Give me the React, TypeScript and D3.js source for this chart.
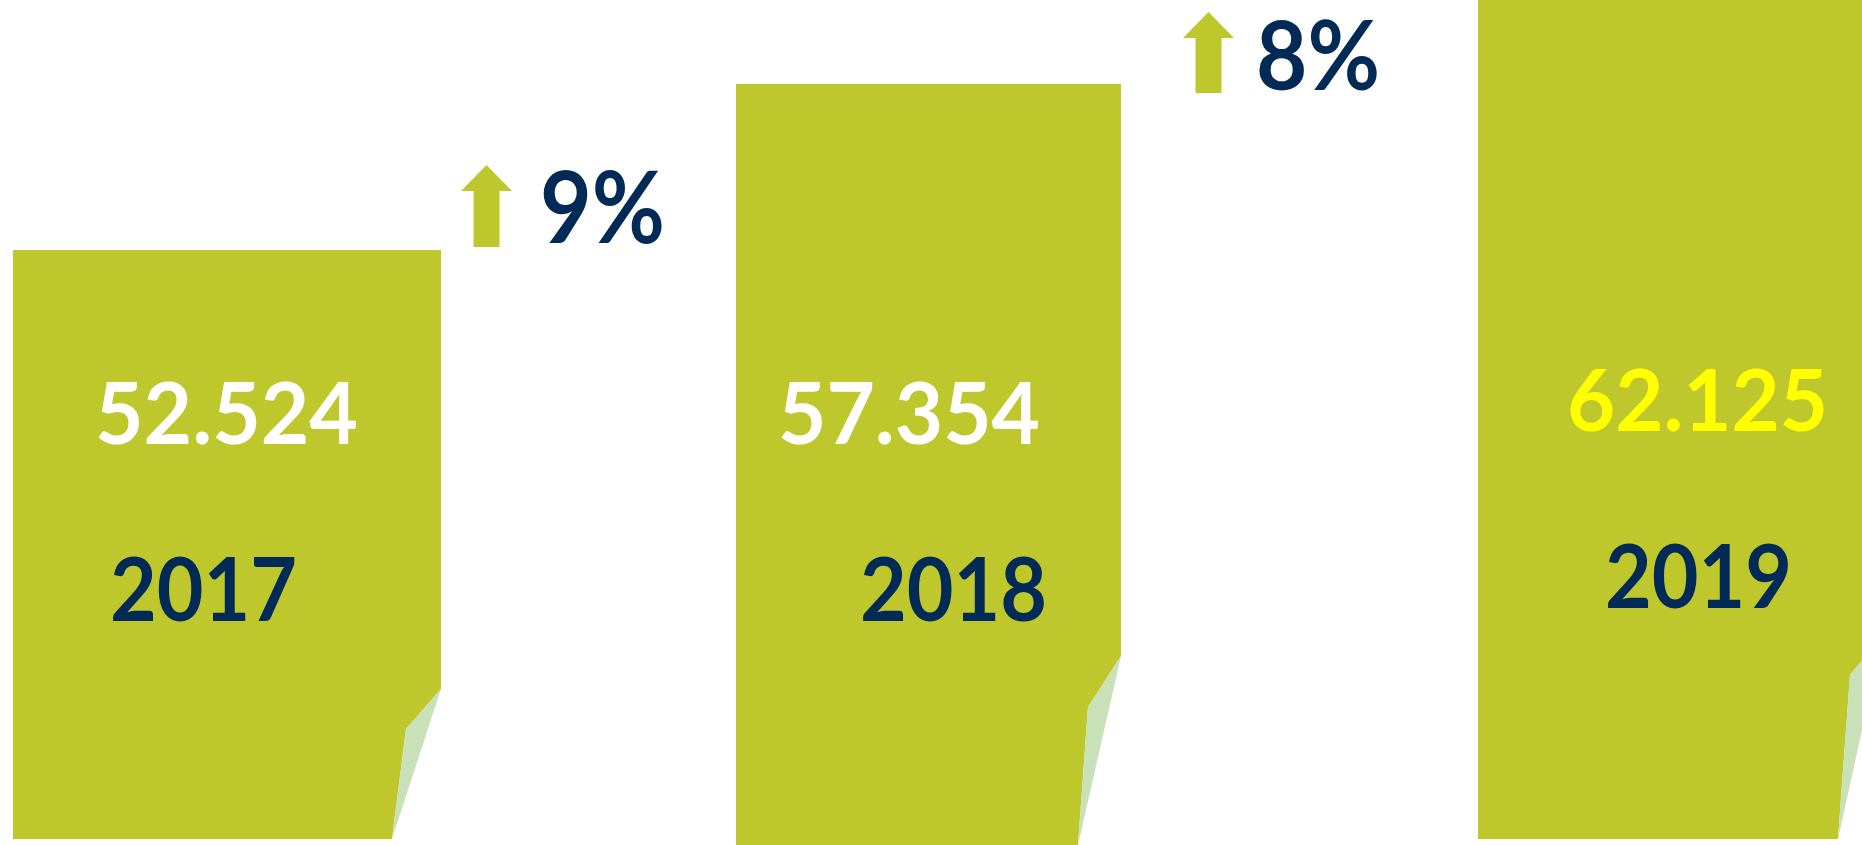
import React from "react";
import * as d3 from "d3";

// ---- data ----
const categories = ["2017", "2018", "2019"];
const values = [52524, 57354, 62125];
const valueColors = ["#FFFFFF", "#FFFFFF", "#FFFF00"];

// ---- layout (positions / styles) ----
const W = 1862;
const H = 845;
const GREEN = "#BEC82C";
const FOLD = "#C8E1B8";
const NAVY = "#022A56";
const FONT = "Lato, 'Open Sans', sans-serif";

const barLeftRange = [13, 736, 1478];
const barRightRange = [441, 1121, 1883];
const barBottom = [839, 845, 839];
// fold: height above bottom where the fold starts, mid point offset, bottom point offset
const foldTopAbove = [150, 189, 204];
const foldMid = [[-35, 40], [-33, 51], [-33, 40]];
const foldBottomDx = [-49, -43, -45];

const valueLabelX = [226.5, 909, 1697.5];
const valueLabelBase = [444, 444, 431];
const valueLabelW = [263, 262, 261];
const yearLabelX = [203.5, 953.5, 1698.5];
const yearLabelBase = [621, 621, 608];
const yearLabelW = [187, 187, 187];

const arrowCx = [486.5, 1208.5];
const arrowTip = [165, 12];
const arrowBottom = [247, 93];
const pctX = [540, 1256];
const pctBase = [243, 90];
const pctW = [125, 124];

const fmt = d3.formatLocale({ decimal: ",", thousands: ".", grouping: [3], currency: ["", "€"] }).format(",d");

export default function App() {
  const xL = d3.scaleOrdinal<string, number>().domain(categories).range(barLeftRange);
  const xR = d3.scaleOrdinal<string, number>().domain(categories).range(barRightRange);
  const y = d3.scaleLinear().domain([35400, 60000]).range([839, -7]);

  const growth = values.slice(1).map((v, i) => Math.round(((v - values[i]) / values[i]) * 100) + "%");

  return (
    <svg
      width={W}
      height={H}
      style={{ position: "fixed", left: 0, top: 0, background: "#fff" }}
      xmlns="http://www.w3.org/2000/svg"
    >
      <rect x={0} y={0} width={W} height={H} fill="#fff" />
      {categories.map((c, i) => {
        const l = xL(c);
        const r = xR(c);
        const t = y(values[i]);
        const b = barBottom[i];
        const ft = b - foldTopAbove[i];
        const mx = r + foldMid[i][0];
        const my = ft + foldMid[i][1];
        const bx = r + foldBottomDx[i];
        const bar = d3.path();
        bar.moveTo(l, t);
        bar.lineTo(r, t);
        bar.lineTo(r, ft);
        bar.lineTo(mx, my);
        bar.lineTo(bx, b);
        bar.lineTo(l, b);
        bar.closePath();
        const fold = d3.path();
        fold.moveTo(r, ft);
        fold.lineTo(mx, my);
        fold.lineTo(bx, b);
        fold.closePath();
        return (
          <g key={c}>
            <path d={bar.toString()} fill={GREEN} />
            <path d={fold.toString()} fill={FOLD} />
            <text
              x={valueLabelX[i] - valueLabelW[i] / 2}
              y={valueLabelBase[i]}
              textLength={valueLabelW[i]}
              lengthAdjust="spacingAndGlyphs"
              fontFamily={FONT}
              fontWeight={700}
              fontSize={86.5}
              fill={valueColors[i]}
            >
              {fmt(values[i])}
            </text>
            <text
              x={yearLabelX[i] - yearLabelW[i] / 2}
              y={yearLabelBase[i]}
              textLength={yearLabelW[i]}
              lengthAdjust="spacingAndGlyphs"
              fontFamily={FONT}
              fontWeight={700}
              fontSize={88}
              fill={NAVY}
            >
              {c}
            </text>
          </g>
        );
      })}
      {growth.map((g, i) => {
        const cx = arrowCx[i];
        const tip = arrowTip[i];
        const headBase = tip + 26;
        const bot = arrowBottom[i];
        const p = d3.path();
        p.moveTo(cx, tip);
        p.lineTo(cx + 25.5, headBase);
        p.lineTo(cx + 13, headBase);
        p.lineTo(cx + 13, bot);
        p.lineTo(cx - 13, bot);
        p.lineTo(cx - 13, headBase);
        p.lineTo(cx - 25.5, headBase);
        p.closePath();
        return (
          <g key={"g" + i}>
            <path d={p.toString()} fill={GREEN} />
            <text
              x={pctX[i]}
              y={pctBase[i]}
              textLength={pctW[i]}
              lengthAdjust="spacingAndGlyphs"
              fontFamily={FONT}
              fontWeight={700}
              fontSize={i === 0 ? 99 : 95}
              fill={NAVY}
            >
              {g}
            </text>
          </g>
        );
      })}
    </svg>
  );
}
